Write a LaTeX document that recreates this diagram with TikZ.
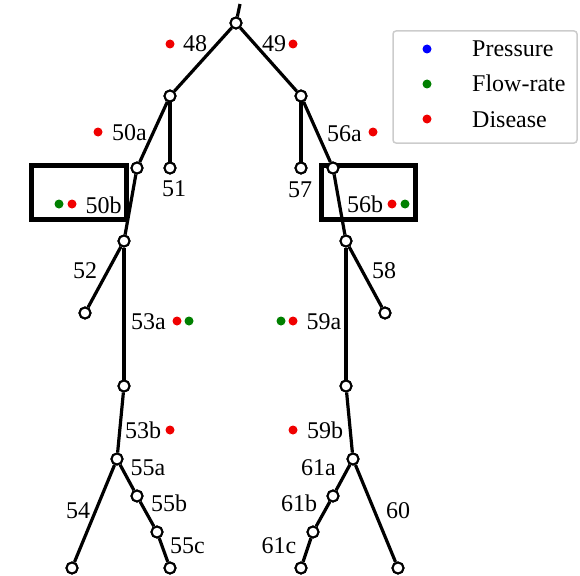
\documentclass[tikz,border=0pt]{standalone}
\usepackage{fontspec}
\setmainfont{Liberation Serif}
\definecolor{dred}{RGB}{240,0,0}
\definecolor{dgreen}{RGB}{0,128,0}
\definecolor{dblue}{RGB}{0,0,255}
\definecolor{lgray}{RGB}{204,204,204}
\begin{document}
\begin{tikzpicture}[x=1pt,y=-1pt,
  vert/.style={circle,draw=black,fill=white,line width=2pt,minimum size=11pt,inner sep=0pt},
  edge/.style={line width=3.2pt,black},
  lab/.style={anchor=base,inner sep=0pt,font=\fontsize{24}{28}\selectfont},
  leglab/.style={anchor=base west,inner sep=0pt,font=\fontsize{24}{28}\selectfont},
  rdot/.style={circle,fill=dred,minimum size=9pt,inner sep=0pt},
  gdot/.style={circle,fill=dgreen,minimum size=9pt,inner sep=0pt},
  bdot/.style={circle,fill=dblue,minimum size=9pt,inner sep=0pt},
  hbox/.style={draw=black,line width=5pt}]
\useasboundingbox (0,0) rectangle (580,575);
% highlight boxes (under the tree)
\node[hbox,minimum width=95pt,minimum height=54pt,inner sep=0pt] (box50b) at (79,192.5) {};
\node[hbox,minimum width=94pt,minimum height=54pt,inner sep=0pt] (box56b) at (368.5,192.5) {};
% coordinates / vertices
\coordinate (top) at (240,4);
\node[vert] (R) at (236,23) {};
\node[vert] (L1) at (170,96) {};
\node[vert] (L51) at (170,168) {};
\node[vert] (L50) at (137,168) {};
\node[vert] (L52t) at (124,241) {};
\node[vert] (L52) at (85,313) {};
\node[vert] (L53) at (124,386) {};
\node[vert] (L55a) at (117,459) {};
\node[vert] (L55b) at (137,496) {};
\node[vert] (L55c) at (157,532) {};
\node[vert] (L55) at (170,568) {};
\node[vert] (L54) at (72,568) {};
\node[vert] (R1) at (301,96) {};
\node[vert] (R57) at (301,168) {};
\node[vert] (R56) at (333,168) {};
\node[vert] (R58t) at (346,241) {};
\node[vert] (R58) at (385,313) {};
\node[vert] (R59) at (346,386) {};
\node[vert] (R61a) at (353,459) {};
\node[vert] (R61b) at (333,496) {};
\node[vert] (R61c) at (313,532) {};
\node[vert] (R61) at (301,568) {};
\node[vert] (R60) at (398,568) {};
% edges
\draw[edge] (top) -- (R);
\draw[edge] (R) -- (L1);
\draw[edge] (R) -- (R1);
\draw[edge] (L1) -- (L51);
\draw[edge] (L1) -- (L50);
\draw[edge] (L50) -- (L52t);
\draw[edge] (L52t) -- (L52);
\draw[edge] (L52t) -- (L53);
\draw[edge] (L53) -- (L55a);
\draw[edge] (L55a) -- (L54);
\draw[edge] (L55a) -- (L55b);
\draw[edge] (L55b) -- (L55c);
\draw[edge] (L55c) -- (L55);
\draw[edge] (R1) -- (R57);
\draw[edge] (R1) -- (R56);
\draw[edge] (R56) -- (R58t);
\draw[edge] (R58t) -- (R58);
\draw[edge] (R58t) -- (R59);
\draw[edge] (R59) -- (R61a);
\draw[edge] (R61a) -- (R60);
\draw[edge] (R61a) -- (R61b);
\draw[edge] (R61b) -- (R61c);
\draw[edge] (R61c) -- (R61);
% redraw vertices on top
\foreach \n in {R,L1,L51,L50,L52t,L52,L53,L55a,L55b,L55c,L55,L54,R1,R57,R56,R58t,R58,R59,R61a,R61b,R61c,R61,R60}
  \node[vert] at (\n) {};
% labels
\node[lab] (t48) at (195,52) {48};
\node[rdot] (d48) at (170,44) {};
\node[lab] (t49) at (274,52) {49};
\node[rdot] (d49) at (293,44) {};
\node[lab] (t50a) at (129.5,140) {50a};
\node[rdot] (d50a) at (98,132) {};
\node[lab] (t51) at (174,196) {51};
\node[lab] (t50b) at (103.5,213) {50b};
\node[gdot] (g50b) at (59,204) {};
\node[rdot] (r50b) at (72,204) {};
\node[lab] (t57) at (300,197) {57};
\node[lab] (t56a) at (344.5,141) {56a};
\node[rdot] (d56a) at (373,132) {};
\node[lab] (t56b) at (365,212) {56b};
\node[rdot] (r56b) at (392,204) {};
\node[gdot] (g56b) at (405,204) {};
\node[lab] (t52) at (85,278) {52};
\node[lab] (t58) at (384,278) {58};
\node[lab] (t53a) at (148.5,329) {53a};
\node[rdot] (r53a) at (177,321) {};
\node[gdot] (g53a) at (189,321) {};
\node[lab] (t59a) at (324,329) {59a};
\node[gdot] (g59a) at (281,321) {};
\node[rdot] (r59a) at (293,321) {};
\node[lab] (t53b) at (143,438) {53b};
\node[rdot] (r53b) at (170,430) {};
\node[lab] (t59b) at (325,438) {59b};
\node[rdot] (r59b) at (293,430) {};
\node[lab] (t55a) at (148,475) {55a};
\node[lab] (t55b) at (169,511) {55b};
\node[lab] (t55c) at (187.5,553) {55c};
\node[lab] (t54) at (78,518) {54};
\node[lab] (t61a) at (318.5,475) {61a};
\node[lab] (t61b) at (299,511) {61b};
\node[lab] (t61c) at (279,553) {61c};
\node[lab] (t60) at (398,518) {60};
% legend
\draw[lgray,line width=1.5pt,rounded corners=3pt] (393,31) rectangle (577,143);
\node[bdot] (lp) at (427,49) {};
\node[gdot] (lf) at (427,84) {};
\node[rdot] (ld) at (427,119) {};
\node[leglab] (tp) at (472,57) {Pressure};
\node[leglab] (tf) at (472,92) {Flow-rate};
\node[leglab] (td) at (472,127) {Disease};
\end{tikzpicture}
\end{document}
